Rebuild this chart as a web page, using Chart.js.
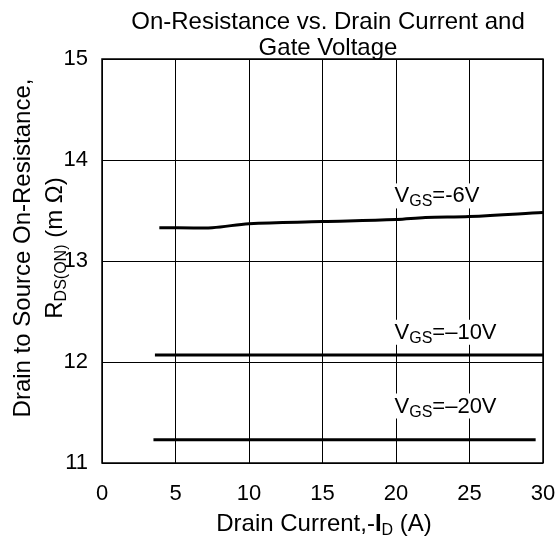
<!DOCTYPE html>
<html>
<head>
<meta charset="utf-8">
<script src="https://cdn.jsdelivr.net/npm/chart.js@4.4.0/dist/chart.umd.min.js"></script>
<style>
  html, body { margin: 0; padding: 0; background: #fff; }
  #wrap { width: 559px; height: 541px; }
</style>
</head>
<body>
<div id="wrap"><canvas id="c" width="559" height="541"></canvas></div>
<script>
// Data
const vgs6X = [3.9, 7.5, 10, 15, 20, 22, 25, 30];
const vgs6Y = [13.33, 13.33, 13.37, 13.39, 13.41, 13.43, 13.44, 13.48];
const vgs10X = [3.6, 30];
const vgs10Y = [12.07, 12.07];
const vgs20X = [3.5, 29.5];
const vgs20Y = [11.23, 11.23];

const xTicks = [0, 5, 10, 15, 20, 25, 30];
const yTicks = [11, 12, 13, 14, 15];

// curve labels: [main, subscript, rest, x, y]
const curveLabels = [
  ['V', 'GS', '=-6V', 19.9, 13.58],
  ['V', 'GS', '=–10V', 19.9, 12.23],
  ['V', 'GS', '=–20V', 19.9, 11.5],
];

const FONT = '"Liberation Sans", Arial, sans-serif';

const toPts = (xs, ys) => xs.map((x, i) => ({ x, y: ys[i] }));

// draw a run of [text, size, dy, weight] pieces starting at x
function drawRuns(ctx, runs, x, y, align) {
  let total = 0;
  runs.forEach(r => { ctx.font = r[3] + ' ' + r[1] + 'px ' + FONT; total += ctx.measureText(r[0]).width; });
  let cx = align === 'center' ? x - total / 2 : x;
  ctx.textAlign = 'left';
  ctx.textBaseline = 'alphabetic';
  runs.forEach(r => {
    ctx.font = r[3] + ' ' + r[1] + 'px ' + FONT;
    ctx.fillText(r[0], cx, y + r[2]);
    cx += ctx.measureText(r[0]).width;
  });
  return total;
}

const decor = {
  id: 'decor',
  afterDraw(chart) {
    const { ctx, chartArea: a, scales } = chart;
    ctx.save();
    ctx.strokeStyle = '#000';
    ctx.lineWidth = 1.5;
    ctx.strokeRect(a.left, a.top, a.right - a.left, a.bottom - a.top);

    ctx.fillStyle = '#000';
    // title
    ctx.font = '24px ' + FONT;
    ctx.textAlign = 'center';
    ctx.fillText('On-Resistance vs. Drain Current and', 328, 29);
    ctx.fillText('Gate Voltage', 328, 55);

    // curve labels with white background
    curveLabels.forEach(l => {
      const px = scales.x.getPixelForValue(l[3]);
      const py = scales.y.getPixelForValue(l[4]);
      const runs = [[l[0], 22, 0, ''], [l[1], 16, 4, ''], [l[2], 22, 0, '']];
      let w = 0;
      runs.forEach(r => { ctx.font = r[1] + 'px ' + FONT; w += ctx.measureText(r[0]).width; });
      ctx.fillStyle = '#fff';
      ctx.fillRect(px - 1, py - 19, w + 2, 25);
      ctx.fillStyle = '#000';
      drawRuns(ctx, runs, px, py, 'left');
    });

    // x axis title
    drawRuns(ctx, [['Drain Current,-', 24, 0, ''], ['I', 24, 0, 'bold'], ['D', 16, 4, ''], [' (A)', 24, 0, '']], 324, 531, 'center');

    // y axis title
    ctx.save();
    ctx.translate(30, 248);
    ctx.rotate(-Math.PI / 2);
    ctx.font = '24px ' + FONT;
    ctx.textAlign = 'center';
    ctx.fillText('Drain to Source On-Resistance,', 0, 0);
    ctx.restore();
    ctx.save();
    ctx.translate(62, 248);
    ctx.rotate(-Math.PI / 2);
    drawRuns(ctx, [['R', 24, 0, ''], ['DS(ON)', 16, 4, ''], [' (m Ω)', 24, 0, '']], 0, 0, 'center');
    ctx.restore();
    ctx.restore();
  }
};

const lineDs = (data) => ({
  data,
  borderColor: '#000',
  borderWidth: 3,
  pointRadius: 0,
  tension: 0.35,
  fill: false,
});

new Chart(document.getElementById('c'), {
  type: 'line',
  data: {
    datasets: [
      lineDs(toPts(vgs6X, vgs6Y)),
      lineDs(toPts(vgs10X, vgs10Y)),
      lineDs(toPts(vgs20X, vgs20Y)),
    ]
  },
  options: {
    responsive: false,
    animation: false,
    events: [],
    layout: { padding: { top: 59, right: 16, left: 0, bottom: 0 } },
    plugins: { legend: { display: false }, tooltip: { enabled: false } },
    scales: {
      x: {
        type: 'linear',
        min: 0, max: 30,
        afterBuildTicks: s => { s.ticks = xTicks.map(v => ({ value: v })); },
        afterFit: s => { s.height = 541 - 463; s.paddingRight = 0; s.paddingLeft = 0; },
        grid: { color: '#000', lineWidth: 1, drawTicks: false },
        border: { display: false },
        ticks: { color: '#000', font: { family: FONT, size: 22 }, padding: 18 },
      },
      y: {
        type: 'linear',
        min: 11, max: 15,
        afterBuildTicks: s => { s.ticks = yTicks.map(v => ({ value: v })); },
        afterFit: s => { s.width = 102; s.paddingTop = 0; s.paddingBottom = 0; },
        grid: { color: '#000', lineWidth: 1, drawTicks: false },
        border: { display: false },
        ticks: { color: '#000', font: { family: FONT, size: 22 }, padding: 14 },
      }
    }
  },
  plugins: [decor]
});
</script>
</body>
</html>
